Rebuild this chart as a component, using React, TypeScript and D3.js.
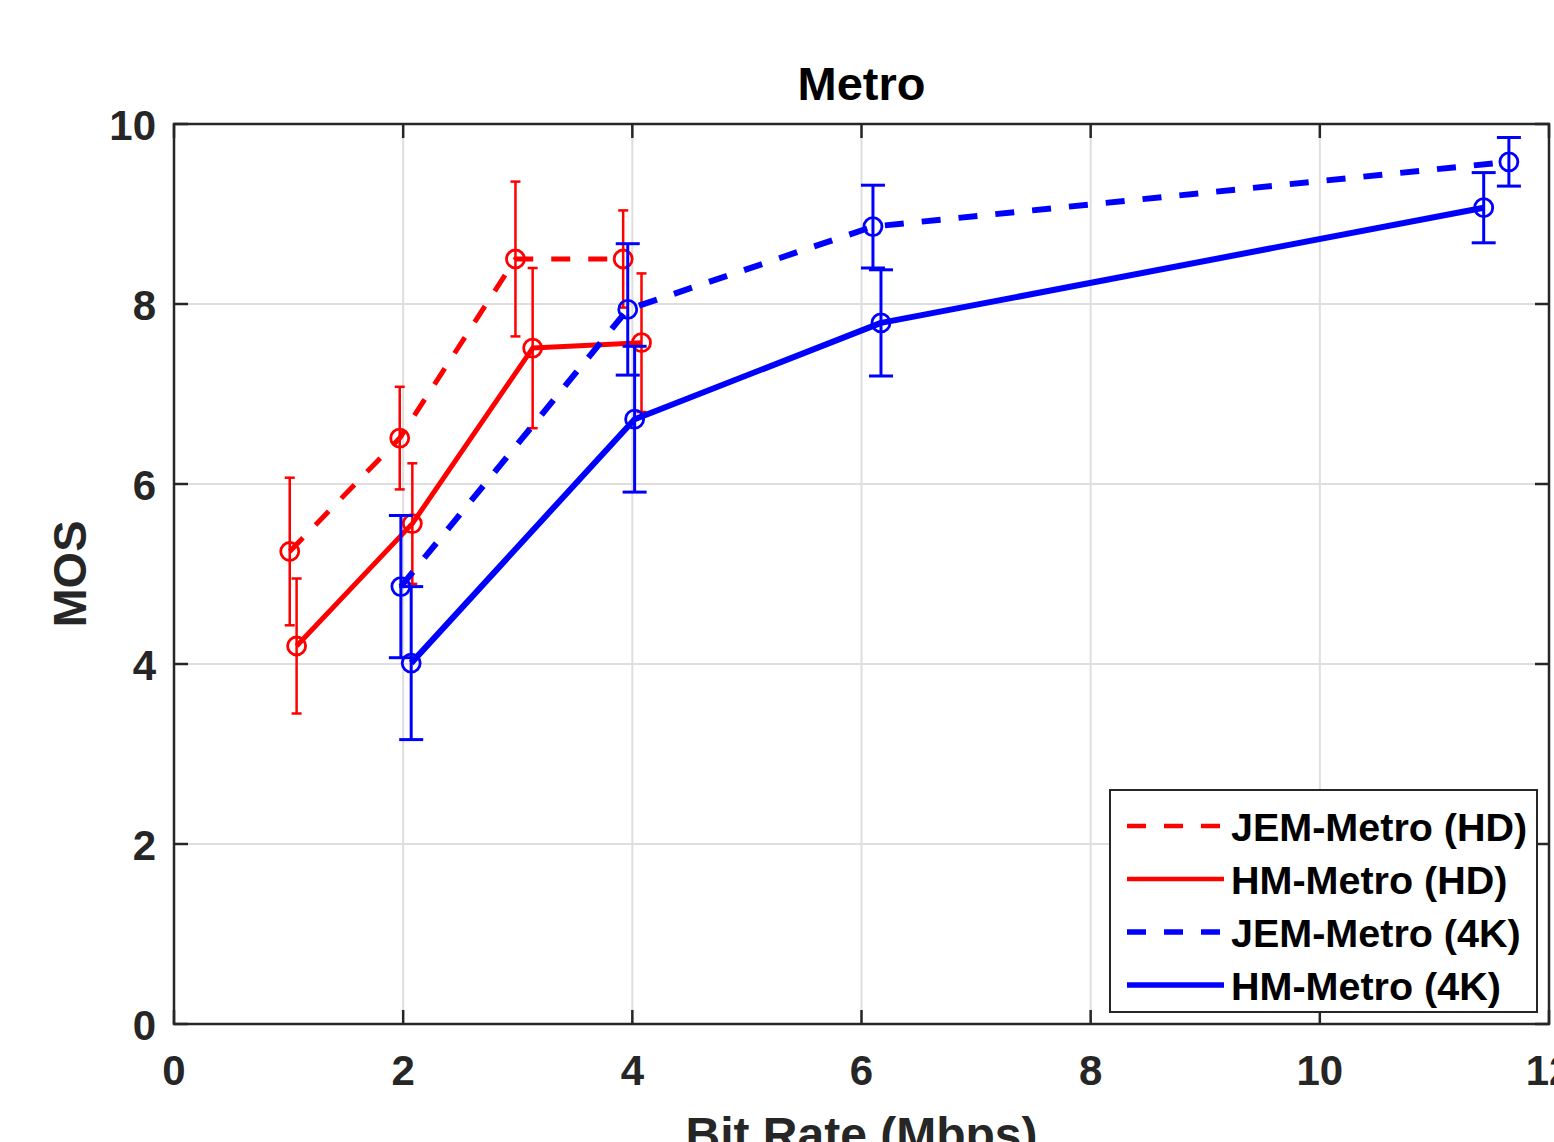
import React, { useEffect, useRef } from 'react';
import * as d3 from 'd3';

// Bit rate (Mbps), MOS and error half-widths for each series
const jemHdRate = [1.01, 1.97, 2.98, 3.92];
const jemHdMos = [5.25, 6.51, 8.5, 8.5];
const jemHdErr = [0.82, 0.57, 0.86, 0.54];

const hmHdRate = [1.07, 2.08, 3.13, 4.08];
const hmHdMos = [4.2, 5.56, 7.51, 7.57];
const hmHdErr = [0.75, 0.67, 0.89, 0.77];

const jemUhdRate = [1.98, 3.96, 6.1, 11.65];
const jemUhdMos = [4.86, 7.94, 8.86, 9.58];
const jemUhdErr = [0.79, 0.73, 0.46, 0.27];

const hmUhdRate = [2.07, 4.02, 6.17, 11.43];
const hmUhdMos = [4.01, 6.72, 7.79, 9.07];
const hmUhdErr = [0.85, 0.81, 0.59, 0.39];

const seriesNames = ['JEM-Metro (HD)', 'HM-Metro (HD)', 'JEM-Metro (4K)', 'HM-Metro (4K)'];
const xTicks = [0, 2, 4, 6, 8, 10, 12];
const yTicks = [0, 2, 4, 6, 8, 10];

const FONT = '"Liberation Sans", Arial, Helvetica, sans-serif';
const AXIS = '#262626';

function App() {
  const ref = useRef<SVGSVGElement>(null);

  useEffect(() => {
    const svg = d3.select(ref.current);
    svg.selectAll('*').remove();

    const left = 174, right = 1549, top = 124, bottom = 1024;

    const x = d3.scaleLinear().domain([0, 12]).range([left, right]);
    const y = d3.scaleLinear().domain([0, 10]).range([bottom, top]);

    const series = [
      { name: seriesNames[0], rate: jemHdRate, mos: jemHdMos, err: jemHdErr, color: '#ff0000', dash: '19,18', width: 5, errWidth: 2.5, cap: 5 },
      { name: seriesNames[1], rate: hmHdRate, mos: hmHdMos, err: hmHdErr, color: '#ff0000', dash: null, width: 5, errWidth: 2.5, cap: 5 },
      { name: seriesNames[2], rate: jemUhdRate, mos: jemUhdMos, err: jemUhdErr, color: '#0000ff', dash: '19,18', width: 6, errWidth: 3, cap: 12 },
      { name: seriesNames[3], rate: hmUhdRate, mos: hmUhdMos, err: hmUhdErr, color: '#0000ff', dash: null, width: 6, errWidth: 3, cap: 12 },
    ];

    // grid
    const grid = svg.append('g').attr('stroke', '#dedede').attr('stroke-width', 2);
    xTicks.filter(t => t > 0 && t < 12).forEach(t => {
      grid.append('line').attr('x1', x(t)).attr('x2', x(t)).attr('y1', top).attr('y2', bottom);
    });
    yTicks.filter(t => t > 0 && t < 10).forEach(t => {
      grid.append('line').attr('x1', left).attr('x2', right).attr('y1', y(t)).attr('y2', y(t));
    });

    // axes box with inward ticks on all sides
    const axes = svg.append('g').attr('stroke', AXIS).attr('stroke-width', 2.5).attr('fill', 'none');
    axes.append('rect').attr('x', left).attr('y', top).attr('width', right - left).attr('height', bottom - top);
    xTicks.forEach(t => {
      axes.append('line').attr('x1', x(t)).attr('x2', x(t)).attr('y1', bottom).attr('y2', bottom - 14);
      axes.append('line').attr('x1', x(t)).attr('x2', x(t)).attr('y1', top).attr('y2', top + 14);
    });
    yTicks.forEach(t => {
      axes.append('line').attr('x1', left).attr('x2', left + 14).attr('y1', y(t)).attr('y2', y(t));
      axes.append('line').attr('x1', right).attr('x2', right - 14).attr('y1', y(t)).attr('y2', y(t));
    });

    // tick labels
    svg.append('g').selectAll('text').data(xTicks).join('text')
      .attr('x', d => x(d)).attr('y', 1070)
      .attr('text-anchor', 'middle').attr('dominant-baseline', 'central')
      .attr('font-family', FONT).attr('font-weight', 'bold').attr('font-size', 42)
      .attr('fill', AXIS).text(d => d);
    svg.append('g').selectAll('text').data(yTicks).join('text')
      .attr('x', 156).attr('y', d => y(d) + 1)
      .attr('text-anchor', 'end').attr('dominant-baseline', 'central')
      .attr('font-family', FONT).attr('font-weight', 'bold').attr('font-size', 42)
      .attr('fill', AXIS).text(d => d);

    // titles
    svg.append('text').attr('x', (left + right) / 2).attr('y', 100)
      .attr('text-anchor', 'middle').attr('font-family', FONT).attr('font-weight', 'bold')
      .attr('font-size', 47).attr('fill', '#000').text('Metro');
    svg.append('text').attr('x', (left + right) / 2).attr('y', 1151)
      .attr('text-anchor', 'middle').attr('font-family', FONT).attr('font-weight', 'bold')
      .attr('font-size', 48).attr('fill', AXIS).text('Bit Rate (Mbps)');
    svg.append('text').attr('transform', `translate(86, ${(top + bottom) / 2}) rotate(-90)`)
      .attr('text-anchor', 'middle').attr('font-family', FONT).attr('font-weight', 'bold')
      .attr('font-size', 47).attr('fill', AXIS).text('MOS');

    // series
    series.forEach(s => {
      const pts = s.rate.map((r, i) => ({ r, m: s.mos[i], e: s.err[i] }));
      const g = svg.append('g');
      const line = d3.line<{ r: number; m: number }>().x(d => x(d.r)).y(d => y(d.m));
      g.append('path').datum(pts)
        .attr('fill', 'none').attr('stroke', s.color).attr('stroke-width', s.width)
        .attr('stroke-dasharray', s.dash).attr('stroke-linejoin', 'round')
        .attr('d', line);
      // error bars
      pts.forEach(p => {
        const eb = g.append('g').attr('stroke', s.color).attr('stroke-width', s.errWidth);
        eb.append('line').attr('x1', x(p.r)).attr('x2', x(p.r)).attr('y1', y(p.m + p.e)).attr('y2', y(p.m - p.e));
        eb.append('line').attr('x1', x(p.r) - s.cap).attr('x2', x(p.r) + s.cap).attr('y1', y(p.m + p.e)).attr('y2', y(p.m + p.e));
        eb.append('line').attr('x1', x(p.r) - s.cap).attr('x2', x(p.r) + s.cap).attr('y1', y(p.m - p.e)).attr('y2', y(p.m - p.e));
      });
      // circle markers
      g.selectAll('circle').data(pts).join('circle')
        .attr('cx', d => x(d.r)).attr('cy', d => y(d.m)).attr('r', 9)
        .attr('fill', 'none').attr('stroke', s.color).attr('stroke-width', 2.8);
    });

    // legend
    const lg = svg.append('g');
    lg.append('rect').attr('x', 1110).attr('y', 790).attr('width', 427).attr('height', 222)
      .attr('fill', '#fff').attr('stroke', AXIS).attr('stroke-width', 2);
    series.forEach((s, i) => {
      const cy = 826 + i * 53;
      lg.append('line').attr('x1', 1127).attr('x2', 1224).attr('y1', cy).attr('y2', cy)
        .attr('stroke', s.color).attr('stroke-width', s.width - 0.5)
        .attr('stroke-dasharray', s.dash);
      lg.append('text').attr('x', 1231).attr('y', cy + 1)
        .attr('dominant-baseline', 'central').attr('font-family', FONT).attr('font-weight', 'bold')
        .attr('font-size', 39.5).attr('fill', '#000').text(s.name);
    });
  }, []);

  return (
    <svg ref={ref} width={1554} height={1142}
      style={{ position: 'absolute', left: 0, top: 0, display: 'block', background: '#fff' }} />
  );
}

export default App;
